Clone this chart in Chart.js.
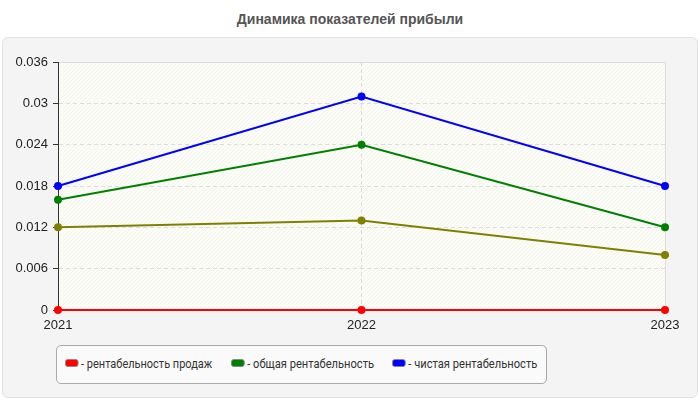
<!DOCTYPE html>
<html>
<head>
<meta charset="utf-8">
<script src="https://cdn.jsdelivr.net/npm/chart.js@4/dist/chart.umd.min.js"></script>
<style>
body{margin:0;background:#fff;font-family:"Liberation Sans",Arial,sans-serif;}
#wrap{position:relative;width:700px;height:400px;overflow:hidden;}
#title{position:absolute;left:0;top:11px;width:700px;text-align:center;font-weight:bold;font-size:14px;color:#555;}
#panel{position:absolute;left:2px;top:37px;width:694px;height:359px;background:#f4f4f4;border:1px solid #e2e2e2;border-radius:6px;}
#chartBox{position:absolute;left:0;top:40px;width:700px;height:300px;}
#legend{position:absolute;left:56px;top:345px;width:489px;height:37px;background:#fafafa;border:1px solid #aaa;border-radius:5px;font-size:13px;color:#333;font-family:Roboto,"Liberation Sans",Arial,sans-serif;}
.item{position:absolute;top:10px;white-space:nowrap;transform-origin:0 50%;}
.sw{display:inline-block;width:14px;height:6px;border:1px solid #888;border-radius:3px;margin-right:3px;vertical-align:1px;}
</style>
</head>
<body>
<div id="wrap">
  <div id="title">Динамика показателей прибыли</div>
  <div id="panel"></div>
  <div id="chartBox"><canvas id="myChart"></canvas></div>
  <div id="legend"></div>
</div>
<script>
var years=['2021','2022','2023'];
var salesProfit=[0,0,0];
var otherProfit=[0.012,0.013,0.008];
var totalProfit=[0.016,0.024,0.012];
var netProfit=[0.018,0.031,0.018];
var names=['рентабельность продаж','','общая рентабельность','чистая рентабельность'];
var colors=['#ff0000','#808000','#008000','#0000ff'];
var yTicks=[0,0.006,0.012,0.018,0.024,0.03,0.036];

function makeSet(i,data){
	return {
		label:names[i],
		data:data,
		borderColor:colors[i],
		backgroundColor:colors[i],
		borderWidth:2,
		pointRadius:3,
		pointHoverRadius:3,
		pointStyle:'circle',
		tension:0,
		clip:false
	};
}

var datasets=[
	makeSet(3,netProfit),
	makeSet(2,totalProfit),
	makeSet(1,otherProfit),
	makeSet(0,salesProfit)
];

// faint hatched plot background
const plotBg={
	id:'plotBg',
	beforeDraw(chart){
		const a=chart.chartArea, c=chart.ctx;
		c.save();
		c.fillStyle='#fdfdf8';
		c.fillRect(a.left,a.top,a.right-a.left,a.bottom-a.top);
		c.beginPath();
		c.rect(a.left,a.top,a.right-a.left,a.bottom-a.top);
		c.clip();
		c.strokeStyle='rgba(0,0,0,0.035)';
		c.lineWidth=1;
		for(let x=a.left-(a.bottom-a.top);x<a.right;x+=4){
			c.beginPath();
			c.moveTo(x,a.bottom);
			c.lineTo(x+(a.bottom-a.top),a.top);
			c.stroke();
		}
		c.restore();
		c.save();
		c.strokeStyle='#dddddd';
		c.lineWidth=1;
		c.beginPath();
		c.moveTo(a.left,a.top+0.5);c.lineTo(a.right+0.5,a.top+0.5);c.lineTo(a.right+0.5,a.bottom);
		c.stroke();
		c.restore();
	}
};

var tickFont={size:13,family:'"Liberation Sans", Arial'};

const myChart=new Chart(document.getElementById('myChart'),{
	type:'line',
	data:{labels:years,datasets:datasets},
	plugins:[plotBg],
	options:{
		animation:false,
		responsive:true,
		maintainAspectRatio:false,
		layout:{padding:{top:22,right:35,left:0,bottom:0}},
		plugins:{legend:{display:false},tooltip:{enabled:false}},
		scales:{
			x:{
				offset:false,
				border:{display:false,dash:[4,3]},
				grid:{color:function(ctx){return ctx.index==1?'#dcdcdc':'rgba(0,0,0,0)';},tickLength:0},
				ticks:{color:'#222',font:tickFont,padding:8,maxRotation:0},
				afterFit(s){s.height=30;}
			},
			y:{
				min:0,max:0.036,
				afterBuildTicks(s){s.ticks=yTicks.map(v=>({value:v}));},
				border:{display:true,color:'#333',width:1,dash:[4,3]},
				grid:{color:function(ctx){return ctx.index==6?'rgba(0,0,0,0)':'#dcdcdc';},tickColor:'#333',tickLength:5},
				ticks:{color:'#222',font:tickFont,padding:5,callback:v=>String(v)},
				afterFit(s){s.width=58;}
			}
		}
	}
});

// legend (olive series is not listed), squeezed to the reference widths
var lg=document.getElementById('legend');
var lx=[8,174,335];
var lw=[147,143,145];
[0,2,3].forEach(function(i,k){
	var d=document.createElement('div');
	d.className='item';
	d.style.left=lx[k]+'px';
	d.innerHTML='<span class="sw" style="background:'+colors[i]+'"></span>- '+names[i];
	lg.appendChild(d);
	d.style.transform='scaleX('+(lw[k]/d.offsetWidth)+')';
});
</script>
</body>
</html>
